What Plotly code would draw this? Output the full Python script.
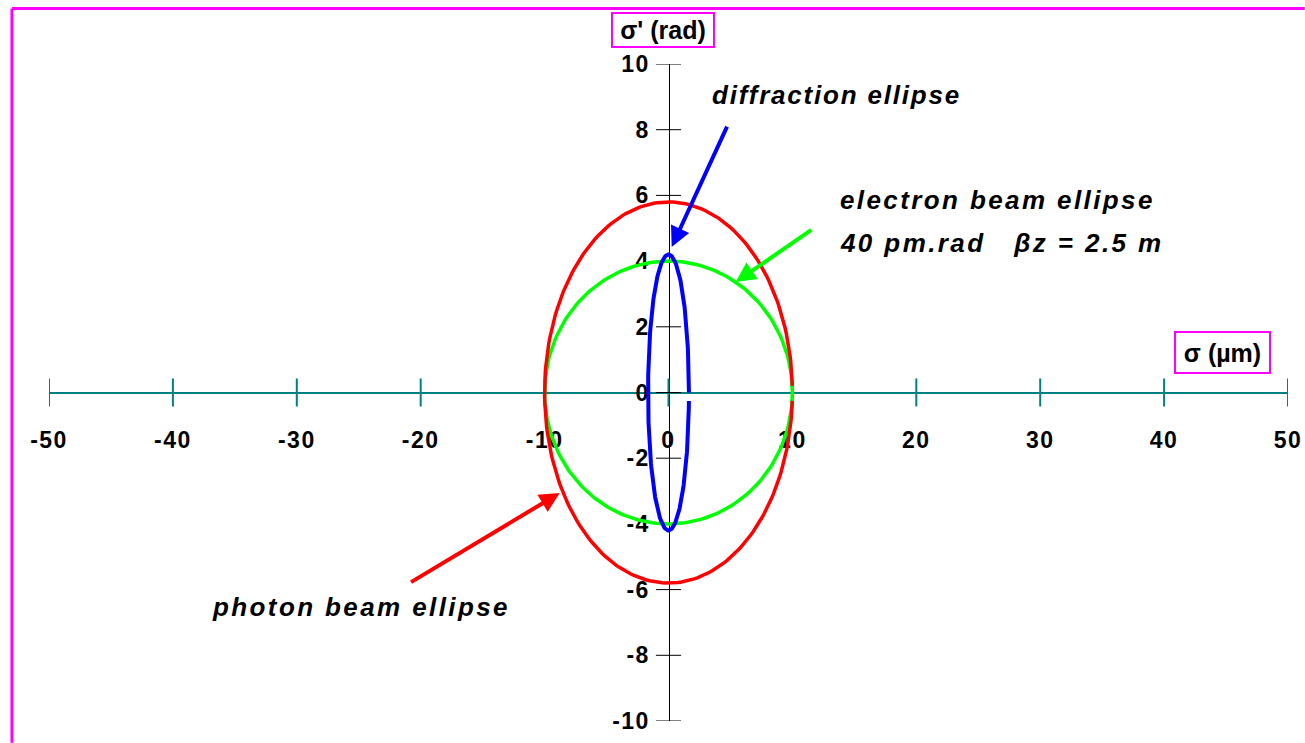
import numpy as np
import plotly.graph_objects as go

# Axis ticks
x_ticks = [-50, -40, -30, -20, -10, 0, 10, 20, 30, 40, 50]
y_ticks = [-10, -8, -6, -4, -2, 0, 2, 4, 6, 8, 10]

# Phase-space ellipses: half-width sigma (µm) and half-height sigma' (rad)
ellipse_names = ["electron beam ellipse", "photon beam ellipse", "diffraction ellipse"]
ellipse_sigma = [10.0, 10.0, 1.65]
ellipse_sigma_p = [4.0, 5.8, 4.2]
# sampled arc (degrees) of each outline
arc_start = [0.0, 2.0, 0.0]
arc_end = [360.0, 357.5, 356.5]

# Arrow pointers: (tail x, tail y) -> (head x, head y) in data units
arrow_tail_x = [11.65, -20.9, 4.78]
arrow_tail_y = [4.98, -5.80, 8.14]
arrow_head_x = [5.42, -8.78, 0.26]
arrow_head_y = [3.36, -3.06, 4.43]

colors = ["#00FF00", "#FF0000", "#0000FF"]
line_widths = [3.5, 3.5, 4]
TEAL = "#008080"
PINK = "#FF00FF"
FONT = "Liberation Sans, Arial, sans-serif"

fig = go.Figure()

# crossing tick marks on both axes
fig.add_trace(go.Scatter(
    x=x_ticks, y=[0] * len(x_ticks), mode="markers", hoverinfo="skip",
    marker=dict(symbol="line-ns", size=20, line=dict(color=TEAL, width=2)),
    showlegend=False))
fig.add_trace(go.Scatter(
    x=[0] * len(y_ticks), y=y_ticks, mode="markers", hoverinfo="skip",
    marker=dict(symbol="line-ew", size=18, line=dict(color="black", width=1)),
    showlegend=False))

for name, a, b, t0, t1, c, w in zip(ellipse_names, ellipse_sigma, ellipse_sigma_p,
                                    arc_start, arc_end, colors, line_widths):
    t = np.radians(np.linspace(t0, t1, 241))
    fig.add_trace(go.Scatter(x=a * np.cos(t), y=b * np.sin(t), mode="lines",
                             name=name, line=dict(color=c, width=w),
                             showlegend=False))

for tx, ty, hx, hy, c in zip(arrow_tail_x, arrow_tail_y, arrow_head_x, arrow_head_y, colors):
    fig.add_annotation(x=hx, y=hy, ax=tx, ay=ty, xref="x", yref="y",
                       axref="x", ayref="y", text="", showarrow=True,
                       arrowhead=2, arrowsize=1, arrowwidth=4, arrowcolor=c)

label_font = dict(family=FONT, size=26, color="black", weight="bold", style="italic")
fig.add_annotation(x=3.33, y=9.06, text="diffraction ellipse", showarrow=False,
                   xanchor="left", yanchor="middle", font=label_font)
fig.add_annotation(x=13.66, y=5.86, text="electron beam ellipse", showarrow=False,
                   xanchor="left", yanchor="middle", font=label_font)
fig.add_annotation(x=13.66, y=4.55, text="40 pm.rad\u00a0\u00a0\u00a0βz = 2.5 m",
                   showarrow=False, xanchor="left", yanchor="middle", font=label_font)
fig.add_annotation(x=-37.03, y=-6.53, text="photon beam ellipse", showarrow=False,
                   xanchor="left", yanchor="middle", font=label_font)

# boxed axis titles
box_font = dict(family=FONT, size=25, color="black", weight="bold")
fig.add_annotation(x=0.4956, y=1.0518, xref="paper", yref="paper", text="σ' (rad)",
                   showarrow=False, xanchor="center", yanchor="middle", font=box_font,
                   width=96, height=28, borderpad=2, borderwidth=2,
                   bordercolor=PINK, bgcolor="white")
fig.add_annotation(x=0.9472, y=0.5611, xref="paper", yref="paper", text="σ (µm)",
                   showarrow=False, xanchor="center", yanchor="middle", font=box_font,
                   width=89, height=35, borderpad=2, borderwidth=2,
                   bordercolor=PINK, bgcolor="white")

# chart frame (left and top edges)
fig.add_shape(type="line", xref="paper", yref="paper", x0=-0.0299, x1=-0.0299,
              y0=-0.033, y1=1.0845, line=dict(color=PINK, width=3))
fig.add_shape(type="line", xref="paper", yref="paper", x0=-0.0299, x1=1.0135,
              y0=1.0845, y1=1.0845, line=dict(color=PINK, width=3))

tick_font = dict(family=FONT, size=23, color="black", weight="bold")
fig.update_layout(
    width=1305, height=743,
    margin=dict(l=49, r=17, t=64, b=22, autoexpand=False),
    paper_bgcolor="white", plot_bgcolor="white",
    showlegend=False,
    xaxis=dict(range=[-50, 50], anchor="free", position=0.5, showgrid=False,
               zeroline=False, showline=True, linecolor=TEAL, linewidth=2,
               tickvals=x_ticks, ticktext=[str(v) for v in x_ticks], ticks="",
               tickfont=tick_font, ticklabelstandoff=27, layer="below traces",
               automargin=False, fixedrange=True),
    yaxis=dict(range=[-10, 10], anchor="free", position=0.5, showgrid=False,
               zeroline=False, showline=True, linecolor="black", linewidth=1,
               tickvals=y_ticks, ticktext=[str(v) for v in y_ticks], ticks="",
               tickfont=tick_font, ticklabelstandoff=14, layer="below traces",
               automargin=False, fixedrange=True),
)

# wider letter spacing on captions and tick numbers
post = """
var s = document.createElement('style');
s.textContent = '.xtick text, .ytick text {letter-spacing: 1.5px;}';
document.head.appendChild(s);
document.querySelectorAll('g.annotation').forEach(function(g){
  var t = g.querySelector('text.annotation-text');
  if (!t) return;
  var txt = t.textContent;
  if (txt.indexOf('ellipse') >= 0 || txt.indexOf('pm.rad') >= 0) {
    var w0 = t.getBBox().width;
    t.style.letterSpacing = txt.indexOf('diffraction') >= 0 ? '1.8px' : '2.4px';
    var w1 = t.getBBox().width;
    var dx = (w1 - w0) / 2;
    [t].concat(Array.prototype.slice.call(t.querySelectorAll('tspan[x]'))).forEach(function(e){
      var x = parseFloat(e.getAttribute('x') || '0');
      e.setAttribute('x', x + dx);
    });
  }
});
"""

fig.write_html("out.html", post_script=post, config={"displayModeBar": False})
